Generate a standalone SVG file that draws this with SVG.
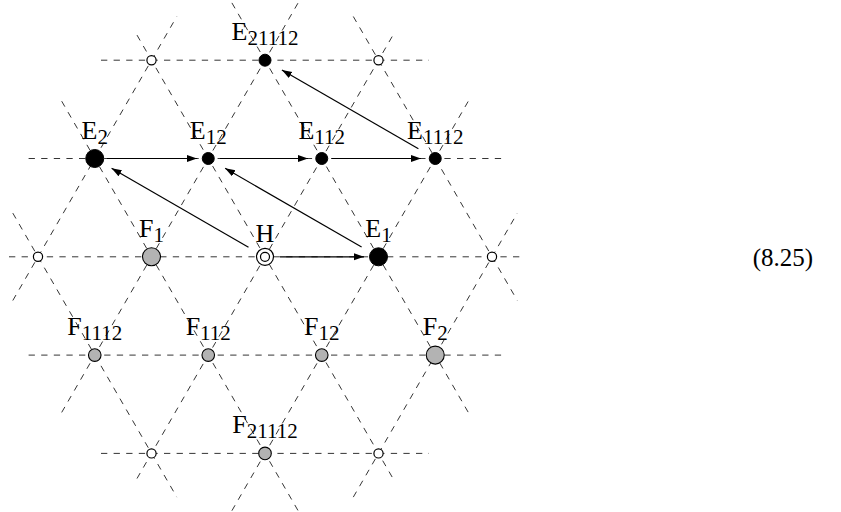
<svg xmlns="http://www.w3.org/2000/svg" width="841" height="512" viewBox="0 0 841 512">
<style>
.lat{stroke:#111;stroke-width:0.85;stroke-dasharray:6.3 6.3;fill:none}
.arr{stroke:#000;stroke-width:1.2;fill:none;marker-end:url(#ah)}
.wn{fill:#fff;stroke:#000;stroke-width:1.2}
.bn{fill:#000;stroke:#000;stroke-width:1}
.gn{fill:#b3b3b3;stroke:#000;stroke-width:1.1}
.lb{font-family:"Liberation Serif","DejaVu Serif",serif;font-size:26px;fill:#000;text-anchor:middle}
.sb{font-size:21px}
</style>
<defs>
<marker id="ah" markerUnits="userSpaceOnUse" markerWidth="11" markerHeight="8" refX="10" refY="3.5" orient="auto">
<path d="M0,0 L10,3.5 L0,7 Z" fill="#000"/>
</marker>
</defs>
<rect width="841" height="512" fill="#fff"/>
<g id="lattice">
<line class="lat" x1="101" y1="60.2" x2="429" y2="60.2"/>
<line class="lat" x1="28.6" y1="158.5" x2="501.4" y2="158.5"/>
<line class="lat" x1="9" y1="256.8" x2="521" y2="256.8"/>
<line class="lat" x1="28.6" y1="355.1" x2="501.4" y2="355.1"/>
<line class="lat" x1="101" y1="453.4" x2="429" y2="453.4"/>
<line class="lat" x1="137" y1="478.5" x2="393" y2="35.1"/>
<line class="lat" x1="231.9" y1="510.7" x2="468.3" y2="101.2"/>
<line class="lat" x1="61.7" y1="412.4" x2="298.1" y2="2.9"/>
<line class="lat" x1="353.3" y1="497.1" x2="517.3" y2="213.1"/>
<line class="lat" x1="12.8" y1="300.5" x2="176.8" y2="16.5"/>
<line class="lat" x1="137" y1="35.1" x2="393" y2="478.5"/>
<line class="lat" x1="231.9" y1="2.9" x2="468.3" y2="412.4"/>
<line class="lat" x1="61.7" y1="101.2" x2="298.1" y2="510.7"/>
<line class="lat" x1="353.3" y1="16.5" x2="517.3" y2="300.5"/>
<line class="lat" x1="12.8" y1="213.1" x2="176.8" y2="497.1"/>
</g>
<g id="connectors">
<line class="arr" x1="107" y1="158.5" x2="197" y2="158.5"/>
<line class="arr" x1="220" y1="158.5" x2="308" y2="158.5"/>
<line class="arr" x1="332" y1="158.5" x2="421" y2="158.5"/>
<line class="arr" x1="280" y1="256.8" x2="364" y2="256.8"/>
<line class="arr" x1="248.5" y1="247.3" x2="111.6" y2="168.25"/>
<line class="arr" x1="361.6" y1="247.05" x2="225.1" y2="168.25"/>
<line class="arr" x1="418.4" y1="148.75" x2="281.9" y2="69.95"/>
</g>
<g id="w1"><circle class="wn" cx="151.5" cy="60.2" r="4.6"/></g>
<g id="w2"><circle class="wn" cx="378.5" cy="60.2" r="4.6"/></g>
<g id="w3"><circle class="wn" cx="38" cy="256.8" r="4.6"/></g>
<g id="w4"><circle class="wn" cx="492" cy="256.8" r="4.6"/></g>
<g id="w5"><circle class="wn" cx="151.5" cy="453.4" r="4.6"/></g>
<g id="w6"><circle class="wn" cx="378.5" cy="453.4" r="4.6"/></g>
<g id="E21112"><circle class="bn" cx="265" cy="60.2" r="6"/><text class="lb" x="265" y="40.2">E<tspan class="sb" dy="5">21112</tspan></text></g>
<g id="E2"><circle class="bn" cx="94.75" cy="158.5" r="9"/><text class="lb" x="94.75" y="138.5">E<tspan class="sb" dy="5">2</tspan></text></g>
<g id="E12"><circle class="bn" cx="208.25" cy="158.5" r="6"/><text class="lb" x="208.25" y="138.5">E<tspan class="sb" dy="5">12</tspan></text></g>
<g id="E112"><circle class="bn" cx="321.75" cy="158.5" r="6"/><text class="lb" x="321.75" y="138.5">E<tspan class="sb" dy="5">112</tspan></text></g>
<g id="E1112"><circle class="bn" cx="435.25" cy="158.5" r="6"/><text class="lb" x="435.25" y="138.5">E<tspan class="sb" dy="5">1112</tspan></text></g>
<g id="F1"><circle class="gn" cx="151.5" cy="256.8" r="9"/><text class="lb" x="151.5" y="236.8">F<tspan class="sb" dy="5">1</tspan></text></g>
<g id="H"><circle class="wn" cx="265" cy="256.8" r="8.5"/><circle class="wn" cx="265" cy="256.8" r="4.5"/><text class="lb" x="265" y="241.5">H</text></g>
<g id="E1"><circle class="bn" cx="378.5" cy="256.8" r="9"/><text class="lb" x="378.5" y="236.8">E<tspan class="sb" dy="5">1</tspan></text></g>
<g id="F1112"><circle class="gn" cx="94.75" cy="355.1" r="6.3"/><text class="lb" x="94.75" y="335.1">F<tspan class="sb" dy="5">1112</tspan></text></g>
<g id="F112"><circle class="gn" cx="208.25" cy="355.1" r="6.3"/><text class="lb" x="208.25" y="335.1">F<tspan class="sb" dy="5">112</tspan></text></g>
<g id="F12"><circle class="gn" cx="321.75" cy="355.1" r="6.3"/><text class="lb" x="321.75" y="335.1">F<tspan class="sb" dy="5">12</tspan></text></g>
<g id="F2"><circle class="gn" cx="435.25" cy="355.1" r="9"/><text class="lb" x="435.25" y="335.1">F<tspan class="sb" dy="5">2</tspan></text></g>
<g id="F21112"><circle class="gn" cx="265" cy="453.4" r="6.3"/><text class="lb" x="265" y="433.4">F<tspan class="sb" dy="5">21112</tspan></text></g>
<text class="lb" x="783" y="266" style="font-size:25px">(8.25)</text>
</svg>
